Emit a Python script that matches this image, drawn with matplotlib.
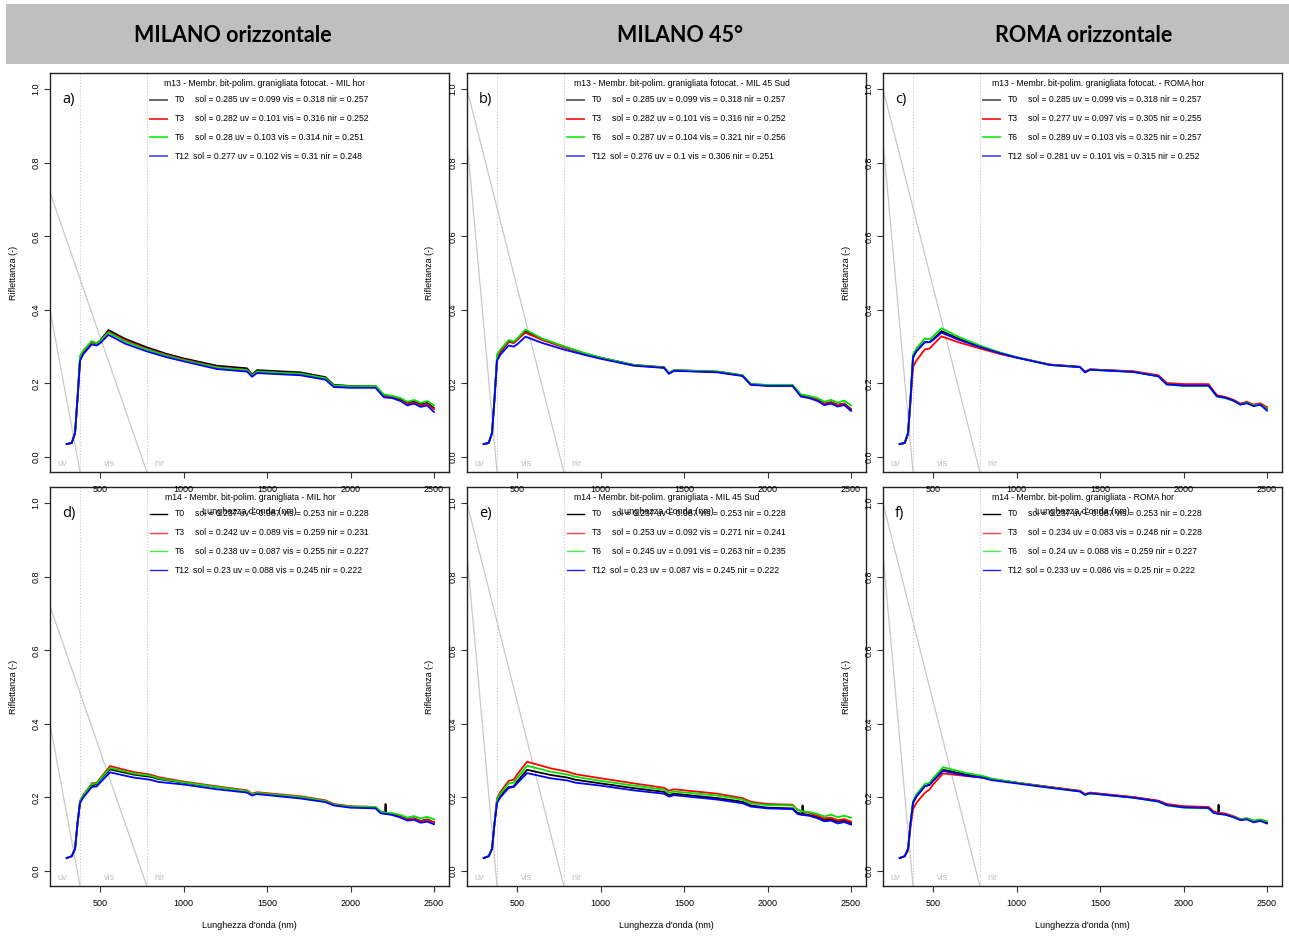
import matplotlib.pyplot as plt

plt.rcParams['font.family'] = ['Liberation Sans', 'DejaVu Sans']

# ======== dati ========
header_titles = ["MILANO orizzontale", "MILANO 45°", "ROMA orizzontale"]
panel_letters = ["a)", "b)", "c)", "d)", "e)", "f)"]
legend_titles = [
    "m13 - Membr. bit-polim. granigliata fotocat. - MIL hor",
    "m13 - Membr. bit-polim. granigliata fotocat. - MIL 45 Sud",
    "m13 - Membr. bit-polim. granigliata fotocat. - ROMA hor",
    "m14 - Membr. bit-polim. granigliata - MIL hor",
    "m14 - Membr. bit-polim. granigliata - MIL 45 Sud",
    "m14 - Membr. bit-polim. granigliata - ROMA hor",
]
series_names = ["T0", "T3", "T6", "T12"]
series_colors = ["black", "red", "#00e000", "blue"]
legend_colors_top = ["#666666", "#ff3030", "#30f030", "#6060ff"]
legend_colors_bot = ["black", "#ff4040", "#40f040", "#2020ff"]

# indici sol / uv / vis / nir per pannello e serie
sol = [[0.285, 0.282, 0.28, 0.277], [0.285, 0.282, 0.287, 0.276], [0.285, 0.277, 0.289, 0.281],
       [0.237, 0.242, 0.238, 0.23], [0.237, 0.253, 0.245, 0.23], [0.237, 0.234, 0.24, 0.233]]
uv = [[0.099, 0.101, 0.103, 0.102], [0.099, 0.101, 0.104, 0.1], [0.099, 0.097, 0.103, 0.101],
      [0.087, 0.089, 0.087, 0.088], [0.087, 0.092, 0.091, 0.087], [0.087, 0.083, 0.088, 0.086]]
vis = [[0.318, 0.316, 0.314, 0.31], [0.318, 0.316, 0.321, 0.306], [0.318, 0.305, 0.325, 0.315],
       [0.253, 0.259, 0.255, 0.245], [0.253, 0.271, 0.263, 0.245], [0.253, 0.248, 0.259, 0.25]]
nir = [[0.257, 0.252, 0.251, 0.248], [0.257, 0.252, 0.256, 0.251], [0.257, 0.255, 0.257, 0.252],
       [0.228, 0.231, 0.227, 0.222], [0.228, 0.241, 0.235, 0.222], [0.228, 0.228, 0.227, 0.222]]

# lunghezze d'onda (nm)
wl13 = [300, 330, 350, 365, 380, 400, 450, 480, 500, 550, 650, 780, 900, 1000, 1200, 1380, 1410,
        1440, 1700, 1850, 1900, 2000, 2150, 2200, 2250, 2300, 2340, 2380, 2420, 2460, 2500]
wl14 = [300, 330, 350, 365, 380, 400, 450, 480, 500, 560, 700, 800, 850, 1000, 1200, 1380, 1410,
        1440, 1700, 1850, 1900, 2000, 2150, 2180, 2207, 2210, 2213, 2250, 2300, 2340, 2380, 2420,
        2460, 2500]

# a) m13 MIL hor
a_T0 = [0.035, 0.038, 0.065, 0.16, 0.265, 0.283, 0.312, 0.309, 0.316, 0.345, 0.321, 0.298, 0.280, 0.268, 0.248, 0.241, 0.224, 0.236, 0.230, 0.217, 0.196, 0.193, 0.193, 0.168, 0.164, 0.157, 0.146, 0.151, 0.143, 0.147, 0.133]
a_T3 = [0.035, 0.038, 0.065, 0.16, 0.268, 0.285, 0.313, 0.308, 0.314, 0.340, 0.317, 0.294, 0.277, 0.265, 0.244, 0.237, 0.221, 0.232, 0.226, 0.214, 0.193, 0.191, 0.191, 0.166, 0.162, 0.154, 0.144, 0.148, 0.140, 0.144, 0.130]
a_T6 = [0.035, 0.038, 0.065, 0.16, 0.275, 0.290, 0.315, 0.309, 0.315, 0.338, 0.314, 0.292, 0.275, 0.263, 0.243, 0.236, 0.221, 0.232, 0.226, 0.214, 0.194, 0.192, 0.193, 0.170, 0.166, 0.160, 0.150, 0.155, 0.147, 0.152, 0.140]
a_T12 = [0.035, 0.038, 0.065, 0.16, 0.262, 0.280, 0.306, 0.303, 0.309, 0.332, 0.308, 0.287, 0.271, 0.260, 0.239, 0.232, 0.218, 0.228, 0.222, 0.210, 0.190, 0.188, 0.188, 0.162, 0.160, 0.152, 0.140, 0.145, 0.136, 0.140, 0.122]
# b) m13 MIL 45 Sud
b_T0 = [0.035, 0.038, 0.065, 0.16, 0.268, 0.285, 0.313, 0.310, 0.318, 0.342, 0.320, 0.300, 0.282, 0.270, 0.250, 0.244, 0.228, 0.236, 0.232, 0.222, 0.198, 0.195, 0.195, 0.167, 0.163, 0.155, 0.145, 0.149, 0.142, 0.145, 0.130]
b_T3 = [0.035, 0.038, 0.065, 0.16, 0.270, 0.287, 0.314, 0.311, 0.318, 0.338, 0.318, 0.298, 0.281, 0.269, 0.249, 0.243, 0.227, 0.235, 0.231, 0.221, 0.197, 0.194, 0.194, 0.166, 0.162, 0.154, 0.144, 0.148, 0.141, 0.144, 0.128]
b_T6 = [0.035, 0.038, 0.065, 0.16, 0.278, 0.292, 0.318, 0.314, 0.322, 0.346, 0.322, 0.301, 0.283, 0.270, 0.250, 0.243, 0.228, 0.236, 0.232, 0.222, 0.198, 0.196, 0.196, 0.170, 0.166, 0.160, 0.150, 0.155, 0.148, 0.153, 0.140]
b_T12 = [0.035, 0.038, 0.065, 0.16, 0.262, 0.278, 0.303, 0.300, 0.306, 0.327, 0.310, 0.292, 0.278, 0.267, 0.248, 0.242, 0.226, 0.234, 0.230, 0.220, 0.196, 0.193, 0.193, 0.164, 0.160, 0.152, 0.141, 0.145, 0.137, 0.141, 0.125]
# c) m13 ROMA hor
c_T0 = [0.035, 0.038, 0.065, 0.16, 0.270, 0.288, 0.312, 0.312, 0.320, 0.342, 0.322, 0.300, 0.283, 0.271, 0.251, 0.245, 0.231, 0.238, 0.232, 0.220, 0.199, 0.195, 0.195, 0.166, 0.162, 0.154, 0.144, 0.148, 0.141, 0.144, 0.132]
c_T3 = [0.035, 0.038, 0.060, 0.15, 0.245, 0.262, 0.292, 0.295, 0.305, 0.328, 0.312, 0.295, 0.280, 0.270, 0.251, 0.245, 0.232, 0.238, 0.233, 0.222, 0.201, 0.198, 0.198, 0.168, 0.163, 0.155, 0.145, 0.150, 0.142, 0.146, 0.135]
c_T6 = [0.035, 0.038, 0.065, 0.16, 0.278, 0.295, 0.322, 0.320, 0.328, 0.350, 0.327, 0.303, 0.284, 0.271, 0.250, 0.244, 0.230, 0.237, 0.231, 0.219, 0.197, 0.193, 0.193, 0.164, 0.160, 0.152, 0.143, 0.147, 0.140, 0.143, 0.130]
c_T12 = [0.035, 0.038, 0.065, 0.16, 0.272, 0.287, 0.312, 0.312, 0.318, 0.338, 0.319, 0.299, 0.282, 0.270, 0.250, 0.244, 0.230, 0.237, 0.231, 0.219, 0.197, 0.194, 0.194, 0.165, 0.161, 0.153, 0.142, 0.146, 0.138, 0.142, 0.126]
# d) m14 MIL hor
d_T0 = [0.035, 0.040, 0.060, 0.13, 0.188, 0.205, 0.232, 0.236, 0.248, 0.276, 0.262, 0.256, 0.250, 0.240, 0.228, 0.217, 0.208, 0.212, 0.200, 0.190, 0.180, 0.174, 0.172, 0.160, 0.156, 0.182, 0.156, 0.154, 0.148, 0.141, 0.143, 0.136, 0.140, 0.132]
d_T3 = [0.035, 0.040, 0.060, 0.13, 0.190, 0.207, 0.238, 0.240, 0.252, 0.285, 0.269, 0.262, 0.255, 0.243, 0.230, 0.219, 0.210, 0.214, 0.203, 0.192, 0.182, 0.176, 0.174, 0.161, 0.158, 0.158, 0.158, 0.155, 0.148, 0.141, 0.142, 0.135, 0.139, 0.132]
d_T6 = [0.035, 0.040, 0.060, 0.13, 0.190, 0.206, 0.236, 0.238, 0.250, 0.280, 0.265, 0.259, 0.252, 0.241, 0.228, 0.217, 0.208, 0.212, 0.201, 0.190, 0.180, 0.175, 0.174, 0.162, 0.158, 0.158, 0.158, 0.157, 0.152, 0.145, 0.149, 0.143, 0.147, 0.140]
d_T12 = [0.035, 0.040, 0.060, 0.13, 0.185, 0.200, 0.228, 0.230, 0.240, 0.268, 0.254, 0.248, 0.242, 0.235, 0.222, 0.213, 0.205, 0.209, 0.197, 0.187, 0.178, 0.172, 0.170, 0.157, 0.155, 0.155, 0.155, 0.152, 0.145, 0.137, 0.139, 0.131, 0.134, 0.127]
# e) m14 MIL 45 Sud
e_T0 = [0.035, 0.040, 0.060, 0.13, 0.190, 0.205, 0.228, 0.230, 0.243, 0.275, 0.261, 0.254, 0.248, 0.238, 0.225, 0.215, 0.206, 0.210, 0.198, 0.188, 0.178, 0.172, 0.170, 0.158, 0.155, 0.178, 0.155, 0.152, 0.146, 0.139, 0.141, 0.134, 0.137, 0.130]
e_T3 = [0.035, 0.040, 0.060, 0.13, 0.198, 0.215, 0.245, 0.248, 0.262, 0.297, 0.279, 0.270, 0.263, 0.252, 0.238, 0.226, 0.218, 0.222, 0.210, 0.198, 0.188, 0.182, 0.180, 0.166, 0.162, 0.162, 0.162, 0.158, 0.150, 0.143, 0.145, 0.138, 0.141, 0.134]
e_T6 = [0.035, 0.040, 0.060, 0.13, 0.195, 0.210, 0.238, 0.240, 0.253, 0.286, 0.270, 0.262, 0.256, 0.245, 0.232, 0.221, 0.212, 0.216, 0.205, 0.194, 0.184, 0.179, 0.178, 0.166, 0.162, 0.162, 0.162, 0.160, 0.155, 0.148, 0.153, 0.146, 0.150, 0.145]
e_T12 = [0.035, 0.040, 0.060, 0.13, 0.185, 0.200, 0.226, 0.228, 0.238, 0.266, 0.252, 0.246, 0.240, 0.232, 0.219, 0.210, 0.202, 0.206, 0.194, 0.184, 0.175, 0.170, 0.168, 0.155, 0.152, 0.152, 0.152, 0.150, 0.143, 0.135, 0.137, 0.129, 0.133, 0.126]
# f) m14 ROMA hor
f_T0 = [0.035, 0.040, 0.060, 0.13, 0.185, 0.202, 0.230, 0.235, 0.246, 0.275, 0.262, 0.256, 0.250, 0.240, 0.228, 0.217, 0.208, 0.212, 0.200, 0.190, 0.180, 0.174, 0.172, 0.160, 0.156, 0.180, 0.156, 0.154, 0.147, 0.140, 0.142, 0.135, 0.138, 0.132]
f_T3 = [0.035, 0.040, 0.055, 0.12, 0.168, 0.185, 0.212, 0.222, 0.235, 0.265, 0.258, 0.254, 0.249, 0.240, 0.228, 0.218, 0.209, 0.213, 0.201, 0.191, 0.182, 0.176, 0.174, 0.162, 0.158, 0.158, 0.158, 0.156, 0.149, 0.141, 0.143, 0.136, 0.139, 0.134]
f_T6 = [0.035, 0.040, 0.060, 0.13, 0.190, 0.208, 0.236, 0.240, 0.252, 0.282, 0.266, 0.258, 0.251, 0.240, 0.227, 0.216, 0.207, 0.211, 0.199, 0.188, 0.178, 0.172, 0.170, 0.158, 0.155, 0.155, 0.155, 0.153, 0.147, 0.140, 0.143, 0.137, 0.140, 0.135]
f_T12 = [0.035, 0.040, 0.060, 0.13, 0.186, 0.203, 0.230, 0.234, 0.245, 0.272, 0.259, 0.253, 0.247, 0.238, 0.226, 0.216, 0.207, 0.211, 0.199, 0.189, 0.179, 0.173, 0.171, 0.158, 0.155, 0.155, 0.155, 0.153, 0.146, 0.138, 0.140, 0.132, 0.136, 0.129]

panel_series = [[a_T0, a_T3, a_T6, a_T12], [b_T0, b_T3, b_T6, b_T12], [c_T0, c_T3, c_T6, c_T12],
                [d_T0, d_T3, d_T6, d_T12], [e_T0, e_T3, e_T6, e_T12], [f_T0, f_T3, f_T6, f_T12]]

# limiti bande e linee grigie di riferimento
band_limits = [380, 780]
band_labels = ["uv", "vis", "nir"]
band_label_x = [272, 555, 855]
guide_x = [[200, 380], [200, 780]]
guide_y_left = [[0.40, -0.041], [0.72, -0.041]]    # pannelli a, d
guide_y_other = [[0.86, -0.041], [1.0, -0.041]]    # pannelli b, c, e, f

# ======== figura ========
W, H = 1289, 936
fig = plt.figure(figsize=(W / 100, H / 100), dpi=100)


def px_box(x0, y0, x1, y1):
    return [x0 / W, 1 - y1 / H, (x1 - x0) / W, (y1 - y0) / H]


# banda grigia del titolo
hdr = fig.add_axes(px_box(6, 4, 1289, 64))
hdr.set_facecolor('#bfbfbf')
hdr.set_xticks([])
hdr.set_yticks([])
for s in hdr.spines.values():
    s.set_visible(False)
for title, cx in zip(header_titles, [233, 680, 1084]):
    fig.text(cx / W, 1 - 35 / H, title, ha='center', va='center', fontsize=15.5,
             fontweight='bold', family=['Lato', 'DejaVu Sans'])

lefts = [50, 467, 883]
rows = [(73, 472), (487, 886)]

axes = []
for r in [1, 0]:  # riga inferiore prima, la superiore si disegna sopra
    for c in range(3):
        top, bot = rows[r]
        ax = fig.add_axes(px_box(lefts[c], top, lefts[c] + 399, bot))
        axes.append((r * 3 + c, ax))

for i, ax in axes:
    ax.set_facecolor('none')
    ax.set_xlim(200, 2590)
    ax.set_ylim(-0.041, 1.044)
    wl = wl13 if i < 3 else wl14

    # linee grigie
    gy = guide_y_left if i % 3 == 0 else guide_y_other
    for gx, gyy in zip(guide_x, gy):
        ax.plot(gx, gyy, color='#c8c8c8', lw=0.9, zorder=1)
    for b in band_limits:
        ax.axvline(b, color='#c8c8c8', lw=0.8, ls=':', zorder=1)
    for lab, bx in zip(band_labels, band_label_x):
        ax.text(bx, -0.018, lab, color='#c0c0c0', fontsize=6.5, ha='center', va='center')

    for vals, col in zip(panel_series[i], series_colors):
        ax.plot(wl, vals, color=col, lw=1.3, zorder=3)

    # legenda
    fr = 1 / 399
    title_cx = 215 if i < 3 else 200
    ax.text(title_cx * fr, 1 - 10 * fr, legend_titles[i], transform=ax.transAxes,
            fontsize=6.2, ha='center', va='center')
    lcols = legend_colors_top if i < 3 else legend_colors_bot
    for k in range(4):
        yy = 1 - (27 + 18.7 * k) * fr
        ax.plot([100 * fr, 117 * fr], [yy, yy], transform=ax.transAxes,
                color=lcols[k], lw=1.4 if i < 3 else 1.0, clip_on=False)
        ax.text(125 * fr, yy, series_names[k], transform=ax.transAxes, fontsize=6.2,
                ha='left', va='center')
        txt = f"sol = {sol[i][k]:g} uv = {uv[i][k]:g} vis = {vis[i][k]:g} nir = {nir[i][k]:g}"
        ax.text((143 if k == 3 else 145) * fr, yy, txt, transform=ax.transAxes,
                fontsize=6.2, ha='left', va='center')

    ax.text(12 * fr, 1 - 27 * fr, panel_letters[i], transform=ax.transAxes, fontsize=10.5,
            ha='left', va='center', family=['Open Sans', 'DejaVu Sans'])

    ax.set_xticks([500, 1000, 1500, 2000, 2500])
    ax.set_yticks([0.0, 0.2, 0.4, 0.6, 0.8, 1.0])
    ax.set_yticklabels(["0.0", "0.2", "0.4", "0.6", "0.8", "1.0"])
    ax.tick_params(axis='both', labelsize=6.5, length=4, width=0.8, color='#333333')
    ax.tick_params(axis='x', pad=5)
    ax.tick_params(axis='y', pad=3)
    for lab in ax.get_yticklabels():
        lab.set_rotation(90)
        lab.set_va('center')
    ax.text(0.5, -39 * fr, "Lunghezza d'onda (nm)", transform=ax.transAxes, fontsize=6.5,
            ha='center', va='center')
    ax.text(-37 * fr, 0.5, "Riflettanza (-)", transform=ax.transAxes, fontsize=6.5,
            ha='center', va='center', rotation=90)
    for s in ax.spines.values():
        s.set_linewidth(1.0)
        s.set_color('#222222')

fig.savefig("out.png", dpi=100)
